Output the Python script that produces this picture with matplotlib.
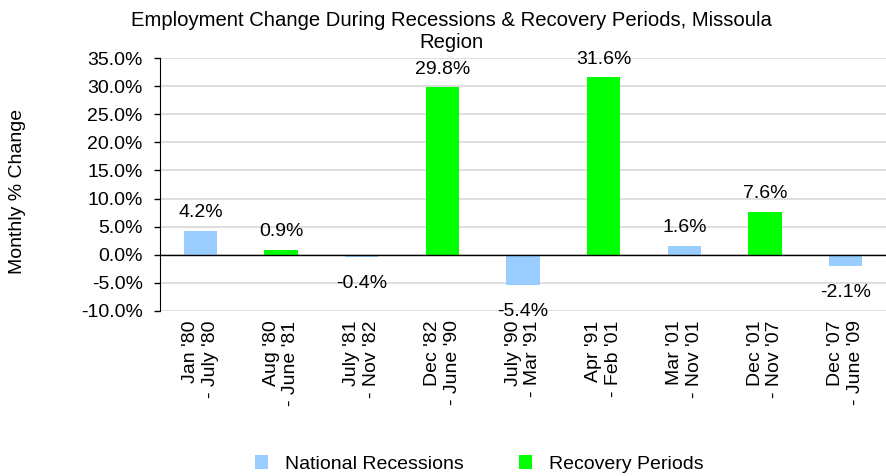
import matplotlib
matplotlib.use('Agg')
import matplotlib.pyplot as plt
from matplotlib.patches import Patch

# periods and employment change (%)
periods = ["Jan '80\n- July '80", "Aug '80\n- June '81", "July '81\n- Nov '82",
           "Dec '82\n- June '90", "July '90\n- Mar '91", "Apr '91\n- Feb '01",
           "Mar '01\n- Nov '01", "Dec '01\n- Nov '07", "Dec '07\n- June '09"]
change = [4.2, 0.9, -0.4, 29.8, -5.4, 31.6, 1.6, 7.6, -2.1]
kind = ['rec', 'recov', 'rec', 'recov', 'rec', 'recov', 'rec', 'recov', 'rec']

yticks = [-10, -5, 0, 5, 10, 15, 20, 25, 30, 35]

blue = '#99CCFF'
green = '#00FF00'

plt.rcParams['font.family'] = ['Liberation Sans', 'DejaVu Sans']
fs = 14

fig = plt.figure(figsize=(8.86, 4.76), dpi=100)
ax = fig.add_axes([160 / 886, 1 - 310.7 / 476, 1 - 160 / 886, (310.7 - 58.3) / 476])

x = list(range(len(change)))
colors = [blue if k == 'rec' else green for k in kind]
bars = ax.bar(x, change, width=0.41, color=colors, zorder=3)

# data labels
for xi, v in zip(x, change):
    if v >= 0:
        ax.annotate(f'{v:.1f}%', (xi, v), xytext=(0, 7), textcoords='offset points',
                    ha='center', va='bottom', fontsize=fs)
    else:
        ax.annotate(f'{v:.1f}%', (xi, v), xytext=(0, -13), textcoords='offset points',
                    ha='center', va='top', fontsize=fs)

ax.set_xlim(-0.5, len(change) - 0.5)
ax.set_ylim(-10, 35)
ax.set_yticks(yticks)
ax.set_yticklabels([f'{t:.1f}%' for t in yticks], fontsize=fs)
ax.yaxis.grid(True, color='#D9D9D9', lw=1.2, zorder=0)
ax.set_axisbelow(True)
ax.axhline(0, color='black', lw=1, zorder=4)

ax.set_xticks(x)
ax.set_xticklabels(periods, rotation=90, fontsize=fs, ha='center', va='top',
                   multialignment='right')
ax.tick_params(axis='x', length=0, pad=7)
ax.tick_params(axis='y', length=4.5, width=1, pad=8, color='black')

for s in ['top', 'right', 'bottom']:
    ax.spines[s].set_visible(False)
ax.spines['left'].set_color('black')

fig.text(0.02, 0.598, 'Monthly % Change', rotation=90, ha='center', va='center', fontsize=fs)
fig.text(0.51, 0.934, 'Employment Change During Recessions & Recovery Periods, Missoula\nRegion',
         ha='center', va='center', fontsize=14.6, linespacing=1.22,
         family=['Liberation Sans Narrow', 'Liberation Sans', 'DejaVu Sans'])

handles = [Patch(facecolor=blue, label='National Recessions'),
           Patch(facecolor=green, label='Recovery Periods')]
fig.legend(handles=handles, loc='center', bbox_to_anchor=(0.541, 0.025), ncol=2,
           frameon=False, fontsize=fs, handlelength=0.67, handleheight=0.67,
           handletextpad=0.88, columnspacing=2.85)

fig.savefig('out.png', dpi=100)
